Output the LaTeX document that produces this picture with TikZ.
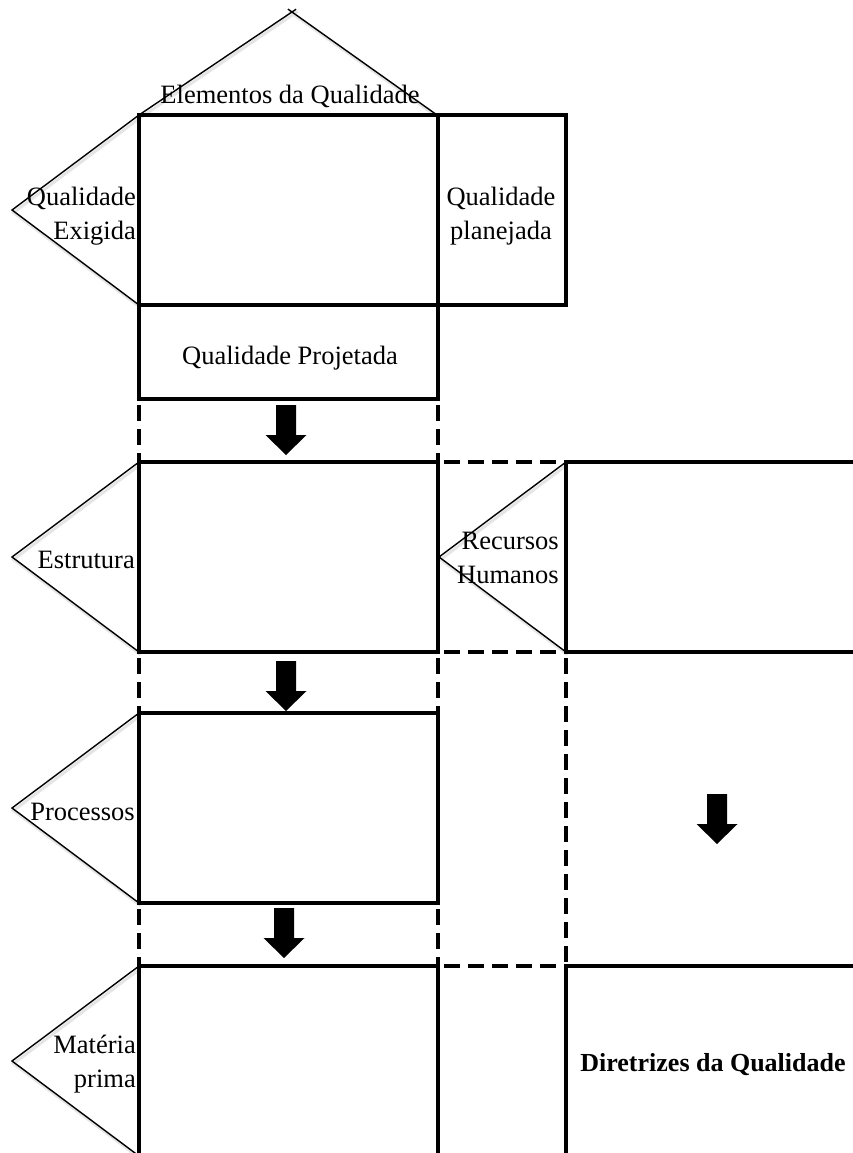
\documentclass[tikz,border=0pt]{standalone}
\usepackage{fontspec}
\setmainfont{Liberation Serif}
\begin{document}
\begin{tikzpicture}[x=1pt,y=-1pt,
  frame/.style={line width=4pt, line cap=rect},
  dashframe/.style={line width=4pt, dash pattern=on 16pt off 8pt, dash phase=18pt},
  wedge/.style={line width=1.4pt, line join=miter},
  wedgeshadow/.style={line width=3pt, draw=black!10, shift={(1.5,2.5)}},
  lbl/.style={inner sep=0pt, font=\fontsize{26.5}{34}\selectfont},
  blockarrow/.pic={\fill[black] (-10,0) -- (10,0) -- (10,30) -- (20.5,30) -- (0,50) -- (-20.5,30) -- (-10,30) -- cycle;}
]
\fill[white] (0,0) rectangle (853,1153);
\useasboundingbox (0,0) rectangle (853,1153);

% --- soft shadows under the wedges ---
\draw[wedgeshadow] (139,115) -- (12,210) -- (139,305);
\draw[wedgeshadow] (139,462) -- (12,557) -- (139,652);
\draw[wedgeshadow] (139,713) -- (12,808) -- (139,903);
\draw[wedgeshadow] (139,966) -- (12,1061) -- (139,1156);
\draw[wedgeshadow] (566,462) -- (439,557) -- (566,652);
\draw[wedgeshadow] (139,115) -- (296,9);
\draw[wedgeshadow] (437,115) -- (288,9);

% --- wedges (roof and side triangles) ---
\draw[wedge] (139,115) -- (296.1,9.2);
\draw[wedge] (437,115) -- (287.9,9.1);
\draw[wedge] (139,115) -- (12,210) -- (139,305);
\draw[wedge] (139,462) -- (12,557) -- (139,652);
\draw[wedge] (139,713) -- (12,808) -- (139,903);
\draw[wedge] (139,966) -- (12,1061) -- (139,1156);
\draw[wedge] (566,462) -- (439,557) -- (566,652);

% --- house of quality ---
\draw[frame] (139,115) rectangle (566,305);
\draw[frame] (438,115) -- (438,305);
\draw[frame] (139,305) -- (139,399) -- (438,399) -- (438,305);

% links between stages
\draw[dashframe] (139,399) -- (139,462);
\draw[dashframe] (438,399) -- (438,462);

% --- estrutura row ---
\draw[frame] (139,462) -- (438,462);
\draw[dashframe] (438,462) -- (566,462);
\draw[frame] (566,462) -- (860,462);
\draw[frame] (139,462) -- (139,652);
\draw[frame] (438,462) -- (438,652);
\draw[frame] (566,462) -- (566,652);
\draw[frame] (139,652) -- (438,652);
\draw[dashframe] (438,652) -- (566,652);
\draw[frame] (566,652) -- (860,652);

\draw[dashframe] (139,652) -- (139,713);
\draw[dashframe] (438,652) -- (438,713);
\draw[dashframe] (566,652) -- (566,966);

% --- processos row ---
\draw[frame] (139,713) rectangle (438,903);
\draw[dashframe] (139,903) -- (139,966);
\draw[dashframe] (438,903) -- (438,966);

% --- materia prima row ---
\draw[frame] (139,966) -- (438,966);
\draw[dashframe] (438,966) -- (566,966);
\draw[frame] (566,966) -- (860,966);
\draw[frame] (139,966) -- (139,1160);
\draw[frame] (438,966) -- (438,1160);
\draw[frame] (566,966) -- (566,1160);

% --- block arrows ---
\pic at (286,405) {blockarrow};
\pic at (286,661) {blockarrow};
\pic at (284,908) {blockarrow};
\pic at (717,794) {blockarrow};

% --- labels ---
\node[lbl, anchor=base] (elem) at (290,103) {Elementos da Qualidade};
\node[lbl, anchor=east, align=right] (exig) at (136,216) {Qualidade\\Exigida};
\node[lbl, align=center] (plan) at (501,216) {Qualidade\\planejada};
\node[lbl, anchor=base] (proj) at (290,364) {Qualidade Projetada};
\node[lbl, anchor=base east] (estr) at (135,568) {Estrutura};
\node[lbl, anchor=east, align=right] (rh) at (559,558) {Recursos\\Humanos};
\node[lbl, anchor=base east] (proc) at (135,820) {Processos};
\node[lbl, anchor=east, align=right] (mp) at (136,1064) {Matéria\\prima};
\node[lbl, anchor=base, font=\fontsize{26}{34}\selectfont\bfseries] (dir) at (713,1071) {Diretrizes da Qualidade};
\end{tikzpicture}
\end{document}
